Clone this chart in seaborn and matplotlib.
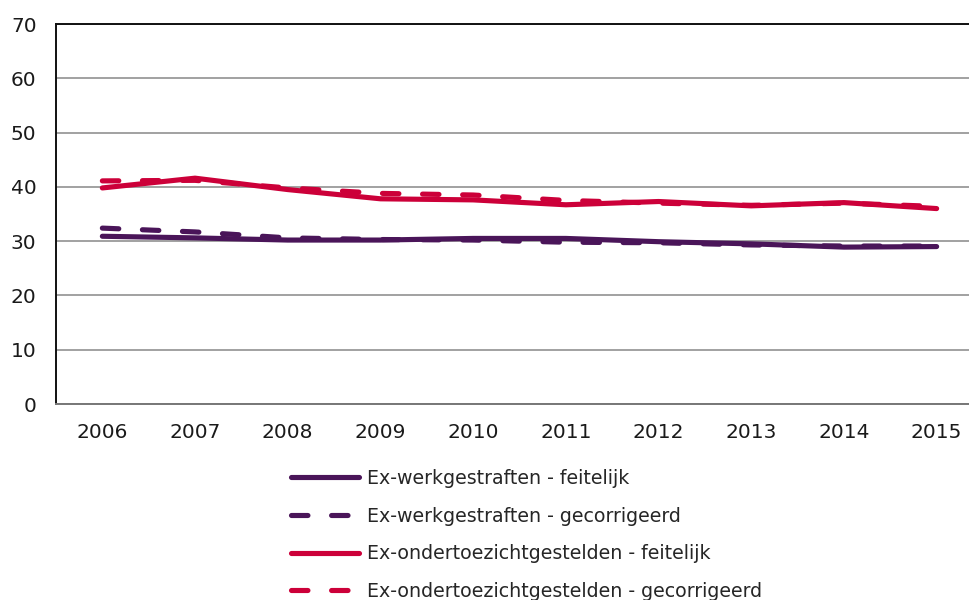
import numpy as np
import pandas as pd
import matplotlib
matplotlib.use("Agg")
import matplotlib.pyplot as plt
import seaborn as sns

years = ["2006", "2007", "2008", "2009", "2010", "2011", "2012", "2013", "2014", "2015"]
werk_feitelijk = [30.9, 30.6, 30.2, 30.2, 30.5, 30.5, 29.9, 29.5, 28.9, 29.0]
werk_gecorrigeerd = [32.4, 31.7, 30.6, 30.3, 30.2, 29.8, 29.7, 29.3, 29.1, 29.1]
ots_feitelijk = [39.8, 41.6, 39.5, 37.8, 37.6, 36.7, 37.3, 36.5, 37.1, 36.0]
ots_gecorrigeerd = [41.1, 41.2, 39.8, 38.8, 38.5, 37.5, 37.0, 36.6, 37.0, 36.4]

series_names = [
    "Ex-werkgestraften - feitelijk",
    "Ex-werkgestraften - gecorrigeerd",
    "Ex-ondertoezichtgestelden - feitelijk",
    "Ex-ondertoezichtgestelden - gecorrigeerd",
]
series_values = [werk_feitelijk, werk_gecorrigeerd, ots_feitelijk, ots_gecorrigeerd]

purple = "#4a1559"
red = "#cc0039"
palette = dict(zip(series_names, [purple, purple, red, red]))
dashes = dict(zip(series_names, ["", (3.2, 4.6), "", (3.2, 4.6)]))

df = pd.concat(
    [pd.DataFrame({"year": years, "value": v, "series": n, "x": range(len(years))})
     for n, v in zip(series_names, series_values)],
    ignore_index=True,
)

sns.set_style("white")
plt.rcParams["font.family"] = ["DejaVu Sans"]

fig = plt.figure(figsize=(9.7, 6.0), dpi=100)
ax = fig.add_axes([56 / 970, 196 / 600, 1 - 56 / 970, 380 / 600])

sns.lineplot(data=df, x="x", y="value", hue="series", style="series",
             palette=palette, dashes=dashes, linewidth=3.7, ax=ax,
             hue_order=series_names, style_order=series_names, legend=True)
for ln in ax.get_lines():
    ln.set_dash_capstyle("round")
    ln.set_solid_capstyle("round")

ax.set_ylim(0, 70)
ax.set_yticks(range(0, 71, 10))
ax.set_xlim(-0.5, 9.36)
ax.set_xticks(range(len(years)))
ax.set_xticklabels(years)
ax.set_xlabel("")
ax.set_ylabel("")
ax.tick_params(axis="both", length=0, labelsize=14.5, colors="#1a1a1a")
ax.tick_params(axis="x", pad=13.5)
ax.tick_params(axis="y", pad=14)
ax.yaxis.grid(True, color="#9a9a9a", linewidth=1.3)
ax.set_axisbelow(True)
for side in ["left", "top"]:
    ax.spines[side].set_color("#111111")
    ax.spines[side].set_linewidth(1.4)
ax.spines["bottom"].set_color("#777777")
ax.spines["bottom"].set_linewidth(1.4)
ax.spines["right"].set_visible(False)

handles, labels = ax.get_legend_handles_labels()
ax.get_legend().remove()
for h in handles:
    h.set_dash_capstyle("round")
    h.set_solid_capstyle("round")
fig.legend(handles, labels, loc="upper left", bbox_to_anchor=(291 / 970, 1 - 469 / 600),
           frameon=False, fontsize=13.7, handlelength=3.6, handletextpad=0.37,
           labelspacing=0.98, borderaxespad=0, borderpad=0)

fig.savefig("out.png", dpi=100)
